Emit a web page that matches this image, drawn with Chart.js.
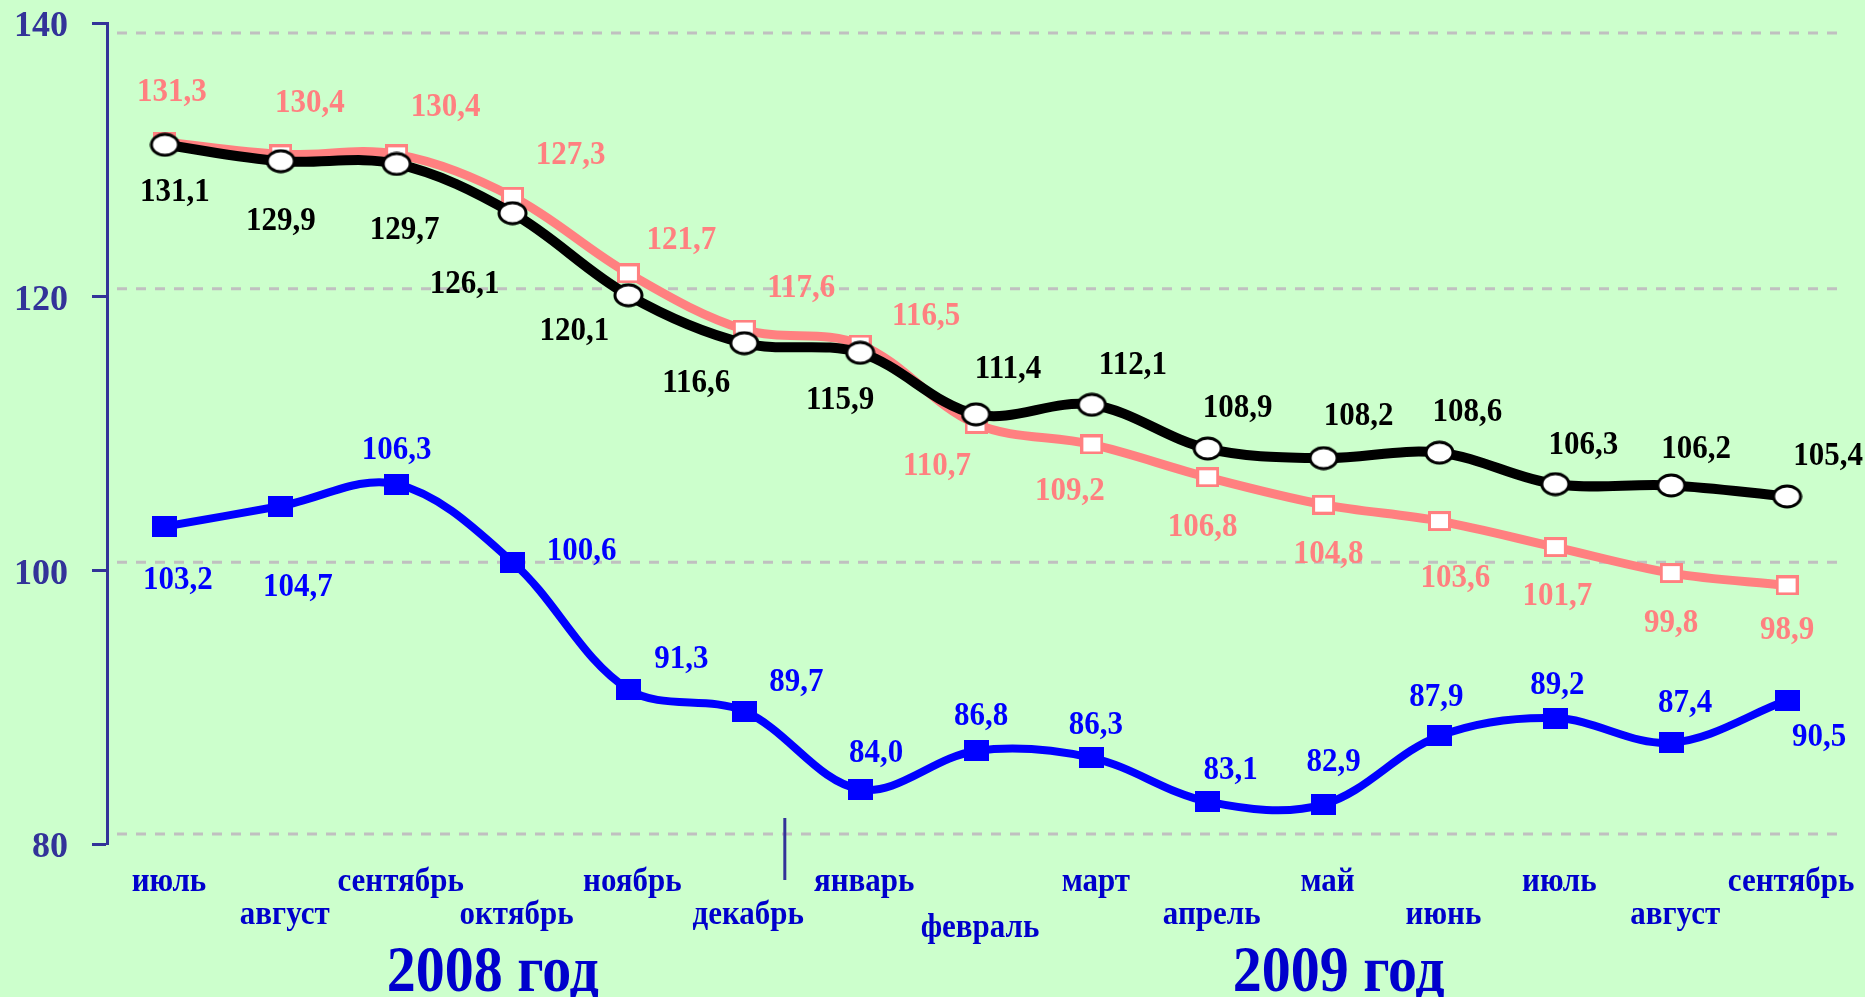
<!DOCTYPE html>
<html>
<head>
<meta charset="utf-8">
<script src="https://cdn.jsdelivr.net/npm/chart.js@4.4.0/dist/chart.umd.min.js"></script>
<style>
    html, body { margin: 0; padding: 0; background: #CCFFCC; }
    #wrap { width: 1865px; height: 997px; position: relative; }
</style>
</head>
<body>
<div id="wrap"><canvas id="chart"></canvas></div>
<script>
// Данные
const months = ['июль', 'август', 'сентябрь', 'октябрь', 'ноябрь', 'декабрь',
                'январь', 'февраль', 'март', 'апрель', 'май', 'июнь', 'июль', 'август', 'сентябрь'];
const years = ['2008 год', '2009 год'];
const yTicks = [80, 100, 120, 140];

const pinkValues  = [131.3, 130.4, 130.4, 127.3, 121.7, 117.6, 116.5, 110.7, 109.2, 106.8, 104.8, 103.6, 101.7, 99.8, 98.9];
const blackValues = [131.1, 129.9, 129.7, 126.1, 120.1, 116.6, 115.9, 111.4, 112.1, 108.9, 108.2, 108.6, 106.3, 106.2, 105.4];
const blueValues  = [103.2, 104.7, 106.3, 100.6, 91.3, 89.7, 84.0, 86.8, 86.3, 83.1, 82.9, 87.9, 89.2, 87.4, 90.5];

// Раскладка подписей (смещения в пикселях, ряд подписи месяца)
const monthRows = [0, 1, 0, 1, 0, 1, 0, 2, 0, 1, 0, 1, 0, 1, 0];
const gridShift = [-10, -8, -8, 10]; // в оригинале сетка чуть смещена от делений
const pinkOff  = [[7,-50],[29,-51],[49,-47],[58,-41],[53,-33],[57,-41],[66,-28],[-39,43],[-22,47],[-5,50],[5,50],[16,57],[2,49],[0,50],[0,45]];
const blackOff = [[10,48],[0,60],[8,67],[-48,71],[-54,36],[-48,40],[-20,48],[32,-45],[41,-39],[30,-40],[35,-42],[28,-40],[28,-39],[25,-36],[41,-40]];
const blueOff  = [[13,54],[17,81],[0,-34],[69,-11],[53,-30],[52,-29],[16,-36],[5,-34],[4,-32],[23,-31],[10,-42],[-3,-38],[2,-33],[14,-39],[32,37]];

const SERIF = "'Liberation Serif', 'Times New Roman', serif";

function makeMarker(w, h, draw) {
    const c = document.createElement('canvas');
    c.width = w;
    c.height = h;
    draw(c.getContext('2d'), w, h);
    return c;
}

const ellipseMarker = makeMarker(31, 25, (ctx) => {
    ctx.beginPath();
    ctx.ellipse(15.5, 12.5, 13.5, 10.5, 0, 0, Math.PI * 2);
    ctx.fillStyle = '#ffffff';
    ctx.fill();
    ctx.lineWidth = 3;
    ctx.strokeStyle = '#000000';
    ctx.stroke();
});

const pinkMarker = makeMarker(23, 20, (ctx) => {
    ctx.fillStyle = '#ffffff';
    ctx.fillRect(0, 0, 23, 20);
    ctx.lineWidth = 3;
    ctx.strokeStyle = '#FF8080';
    ctx.strokeRect(1.5, 1.5, 20, 17);
});

const blueMarker = makeMarker(25, 21, (ctx) => {
    ctx.fillStyle = '#0000FF';
    ctx.fillRect(0, 0, 25, 21);
});

const fmt = (v) => v.toFixed(1).replace('.', ',');

// текст, слегка вытянутый по вертикали, как в оригинале
function tallText(ctx, text, x, y, sy) {
    ctx.save();
    ctx.translate(x, y);
    ctx.scale(1, sy);
    ctx.fillText(text, 0, 0);
    ctx.restore();
}

const decorPlugin = {
    id: 'decor',
    beforeDatasetsDraw(chart) {
        const ctx = chart.ctx;
        const area = chart.chartArea;
        const y = chart.scales.y;
        ctx.save();
        ctx.strokeStyle = '#C0C0C0';
        ctx.lineWidth = 3;
        ctx.setLineDash([10, 9]);
        yTicks.forEach((v, i) => {
            const py = y.getPixelForValue(v) + gridShift[i];
            ctx.beginPath();
            ctx.moveTo(area.left + 10, py);
            ctx.lineTo(area.right, py);
            ctx.stroke();
        });
        ctx.restore();
    },
    afterDatasetsDraw(chart) {
        const ctx = chart.ctx;
        const area = chart.chartArea;
        const x = chart.scales.x;
        ctx.save();

        // подписи значений
        const sets = [
            { idx: 0, vals: pinkValues, off: pinkOff, color: '#FF8080' },
            { idx: 1, vals: blackValues, off: blackOff, color: '#000000' },
            { idx: 2, vals: blueValues, off: blueOff, color: '#0000FF' }
        ];
        ctx.font = 'bold 31px ' + SERIF;
        ctx.textAlign = 'center';
        ctx.textBaseline = 'middle';
        sets.forEach(s => {
            const meta = chart.getDatasetMeta(s.idx);
            ctx.fillStyle = s.color;
            meta.data.forEach((pt, i) => {
                tallText(ctx, fmt(s.vals[i]), pt.x + s.off[i][0], pt.y + s.off[i][1], 1.06);
            });
        });

        // месяцы
        const rowY = [38, 71, 84];
        ctx.font = 'bold 31px ' + SERIF;
        ctx.fillStyle = '#0000CC';
        months.forEach((m, i) => {
            tallText(ctx, m, x.getPixelForValue(i) + 4, area.bottom + rowY[monthRows[i]], 1.12);
        });

        // годы
        ctx.font = 'bold 58px ' + SERIF;
        ctx.textBaseline = 'alphabetic';
        tallText(ctx, years[0], x.getPixelForValue(2.83), area.bottom + 147, 1.12);
        tallText(ctx, years[1], x.getPixelForValue(10.13), area.bottom + 147, 1.12);

        // разделитель 2008/2009
        const sx = x.getPixelForValue(5) + 0.35 * (x.getPixelForValue(6) - x.getPixelForValue(5));
        ctx.strokeStyle = '#333399';
        ctx.lineWidth = 3;
        ctx.beginPath();
        ctx.moveTo(sx, area.bottom - 26);
        ctx.lineTo(sx, area.bottom + 36);
        ctx.stroke();

        ctx.restore();
    }
};

new Chart(document.getElementById('chart'), {
    type: 'line',
    data: {
        labels: months,
        datasets: [
            {
                label: 'pink',
                data: pinkValues,
                borderColor: '#FF8080',
                borderWidth: 9,
                tension: 0.35,
                pointStyle: pinkMarker,
                order: 2
            },
            {
                label: 'black',
                data: blackValues,
                borderColor: '#000000',
                borderWidth: 10,
                tension: 0.35,
                pointStyle: ellipseMarker,
                order: 1
            },
            {
                label: 'blue',
                data: blueValues,
                borderColor: '#0000FF',
                borderWidth: 8,
                tension: 0.35,
                pointStyle: blueMarker,
                order: 3
            }
        ]
    },
    options: {
        responsive: true,
        maintainAspectRatio: false,
        animation: false,
        devicePixelRatio: 1,
        layout: {
            padding: { left: 0, right: 20, top: 23, bottom: 153 }
        },
        plugins: {
            legend: { display: false },
            tooltip: { enabled: false }
        },
        scales: {
            x: {
                type: 'category',
                display: false,
                offset: true
            },
            y: {
                min: 80,
                max: 140,
                afterFit: (s) => {
                    s.width = 107;
                    s.paddingTop = 0;
                    s.paddingBottom = 0;
                },
                ticks: {
                    stepSize: 20,
                    padding: 24,
                    labelOffset: 4,
                    color: '#333399',
                    font: { family: SERIF, size: 36, weight: 'bold' }
                },
                grid: {
                    drawOnChartArea: false,
                    drawTicks: true,
                    tickLength: 15,
                    tickColor: '#333399',
                    tickWidth: 3
                },
                border: {
                    display: true,
                    color: '#333399',
                    width: 3
                }
            }
        }
    },
    plugins: [decorPlugin]
});
</script>
</body>
</html>
